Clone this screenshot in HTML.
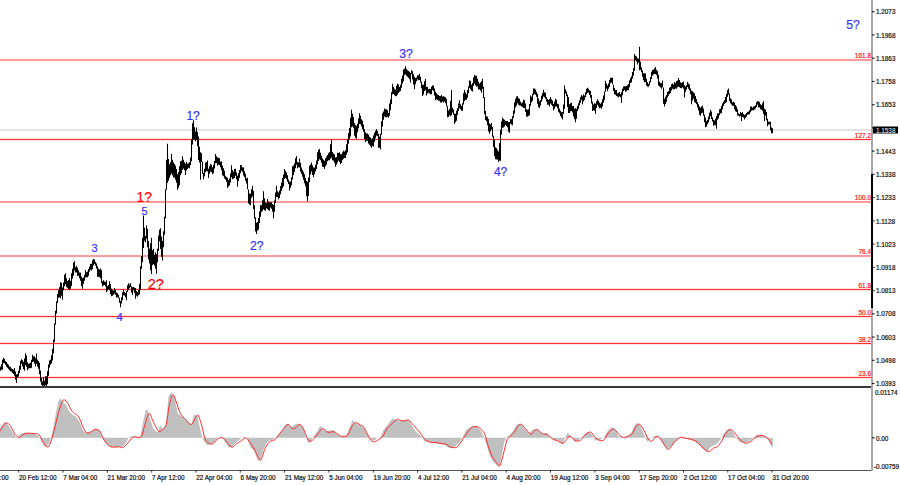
<!DOCTYPE html><html><head><meta charset="utf-8"><style>html,body{margin:0;padding:0;background:#fff;overflow:hidden}svg{display:block}text{font-family:"Liberation Sans",sans-serif}.k{stroke:#111;stroke-width:0.22px}.rr{stroke:#ff2020;stroke-width:0.22px}.w{stroke:#fff;stroke-width:0.15px}</style></head><body>
<svg width="900" height="485" viewBox="0 0 900 485">
<rect x="0" y="0" width="900" height="485" fill="#fff"/>
<rect x="0" y="129" width="871" height="2" fill="#e3e3e3"/>
<rect x="0" y="59" width="871" height="2" fill="#ff9a9a"/>
<rect x="0" y="201" width="871" height="2" fill="#ff9a9a"/>
<rect x="0" y="255" width="871" height="2" fill="#ff9a9a"/>
<rect x="0" y="138.5" width="871" height="2" fill="#ffc8c8"/>
<rect x="0" y="139" width="871" height="1" fill="#ff3030"/>
<rect x="0" y="288.5" width="871" height="2" fill="#ffc8c8"/>
<rect x="0" y="289" width="871" height="1" fill="#ff3030"/>
<rect x="0" y="315.5" width="871" height="2" fill="#ffc8c8"/>
<rect x="0" y="316" width="871" height="1" fill="#ff3030"/>
<rect x="0" y="342.5" width="871" height="2" fill="#ffc8c8"/>
<rect x="0" y="343" width="871" height="1" fill="#ff3030"/>
<rect x="0" y="376.5" width="871" height="2" fill="#ffc8c8"/>
<rect x="0" y="377" width="871" height="1" fill="#ff3030"/>
<text x="871" y="58.4" font-size="7.2" fill="#ff2020" class="rr" text-anchor="end" transform="translate(871,0) scale(0.9,1) translate(-871,0)">161.8</text>
<text x="871" y="200.4" font-size="7.2" fill="#ff2020" class="rr" text-anchor="end" transform="translate(871,0) scale(0.9,1) translate(-871,0)">100.0</text>
<text x="871" y="254.4" font-size="7.2" fill="#ff2020" class="rr" text-anchor="end" transform="translate(871,0) scale(0.9,1) translate(-871,0)">76.4</text>
<text x="871" y="137.9" font-size="7.2" fill="#ff2020" class="rr" text-anchor="end" transform="translate(871,0) scale(0.9,1) translate(-871,0)">127.2</text>
<text x="871" y="287.9" font-size="7.2" fill="#ff2020" class="rr" text-anchor="end" transform="translate(871,0) scale(0.9,1) translate(-871,0)">61.8</text>
<text x="871" y="314.9" font-size="7.2" fill="#ff2020" class="rr" text-anchor="end" transform="translate(871,0) scale(0.9,1) translate(-871,0)">50.0</text>
<text x="871" y="341.9" font-size="7.2" fill="#ff2020" class="rr" text-anchor="end" transform="translate(871,0) scale(0.9,1) translate(-871,0)">38.2</text>
<text x="871" y="375.9" font-size="7.2" fill="#ff2020" class="rr" text-anchor="end" transform="translate(871,0) scale(0.9,1) translate(-871,0)">23.6</text>
<path d="M0.5,366.65V370.68M1.5,364.35V369.65M2.5,359.70V369.61M3.5,357.68V363.15M4.5,358.99V363.20M5.5,361.15V364.78M6.5,362.05V366.87M7.5,363.85V367.80M8.5,364.85V368.92M9.5,366.65V370.15M10.5,366.65V371.15M11.5,368.55V371.42M12.5,369.03V372.95M13.5,369.69V373.90M14.5,367.94V375.75M15.5,371.45V379.40M16.5,374.60V383.05M17.5,373.90V377.15M18.5,370.85V376.41M19.5,365.70V373.11M20.5,360.65V369.65M21.5,359.25V363.65M22.5,360.15V366.40M23.5,362.05V369.23M24.5,358.57V370.65M25.5,353.35V365.05M26.5,355.55V366.85M27.5,362.05V370.20M28.5,363.85V368.65M29.5,363.28V368.05M30.5,362.82V368.25M31.5,359.83V367.82M32.5,354.85V362.08M33.5,356.39V361.65M34.5,356.15V363.53M35.5,358.26V366.40M36.5,353.55V363.76M37.5,359.82V366.45M38.5,361.11V368.85M39.5,362.84V374.25M40.5,370.55V381.50M41.5,377.63V384.66M42.5,381.39V385.65M43.5,377.65V385.72M44.5,380.45V387.21M45.5,376.35V385.16M46.5,376.35V386.05M47.5,371.26V384.35M48.5,364.51V375.65M49.5,360.52V367.55M50.5,359.63V364.85M51.5,355.17V363.55M52.5,348.73V360.42M53.5,339.62V353.25M54.5,323.59V342.05M55.5,310.77V324.66M56.5,301.35V313.54M57.5,293.95V303.05M58.5,290.22V297.70M59.5,287.35V297.14M60.5,282.35V298.25M61.5,282.85V295.85M62.5,287.50V299.85M63.5,282.39V290.25M64.5,274.85V286.19M65.5,273.31V284.14M66.5,278.17V287.05M67.5,281.00V287.85M68.5,279.90V289.18M69.5,278.05V290.25M70.5,280.90V288.65M71.5,273.25V285.96M72.5,268.73V278.87M73.5,262.51V275.75M74.5,261.35V270.51M75.5,267.28V272.55M76.5,265.65V272.55M77.5,267.71V275.75M78.5,270.16V275.75M79.5,272.52V278.37M80.5,272.72V280.83M81.5,276.45V286.09M82.5,278.35V288.65M83.5,277.52V283.85M84.5,274.85V280.65M85.5,270.05V277.43M86.5,272.21V277.35M87.5,271.47V277.35M88.5,269.07V275.75M89.5,266.73V271.68M90.5,264.12V269.84M91.5,263.65V270.60M92.5,260.35V268.91M93.5,258.97V265.41M94.5,259.55V264.09M95.5,261.95V265.46M96.5,263.50V268.51M97.5,266.27V276.94M98.5,268.82V276.73M99.5,269.43V277.35M100.5,268.45V278.34M101.5,270.35V283.32M102.5,281.29V286.45M103.5,280.15V285.51M104.5,281.41V284.95M105.5,282.05V286.40M106.5,280.15V292.35M107.5,285.95V290.68M108.5,285.15V289.14M109.5,281.15V290.14M110.5,284.01V294.35M111.5,288.77V296.35M112.5,290.05V295.75M113.5,290.65V294.80M114.5,287.99V293.55M115.5,289.75V294.66M116.5,292.45V297.53M117.5,293.23V297.25M118.5,294.75V298.25M119.5,297.78V302.74M120.5,300.95V307.15M121.5,297.17V303.42M122.5,292.19V300.25M123.5,289.05V295.35M124.5,292.05V295.57M125.5,293.05V297.22M126.5,290.98V300.31M127.5,285.25V291.83M128.5,283.15V289.74M129.5,284.55V288.35M130.5,283.15V287.05M131.5,286.15V292.77M132.5,287.15V295.01M133.5,286.94V290.35M134.5,287.70V292.65M135.5,288.05V298.64M136.5,291.05V295.75M137.5,292.05V296.75M138.5,289.82V295.35M139.5,283.71V294.35M140.5,266.37V290.35M141.5,256.05V268.77M142.5,237.63V262.35M143.5,215.47V247.95M144.5,227.87V240.65M145.5,235.93V242.15M146.5,225.55V238.44M147.5,228.68V247.18M148.5,240.98V259.45M149.5,248.76V263.51M150.5,243.34V270.27M151.5,237.64V273.95M152.5,250.34V264.92M153.5,248.65V263.97M154.5,254.68V265.48M155.5,252.28V268.87M156.5,254.35V273.78M157.5,248.65V262.35M158.5,235.54V250.85M159.5,229.85V241.29M160.5,228.35V249.06M161.5,236.47V256.65M162.5,240.93V260.49M163.5,231.35V247.16M164.5,216.85V234.71M165.5,189.35V218.30M166.5,159.68V189.65M167.5,143.75V182.90M168.5,159.05V180.78M169.5,164.18V177.70M170.5,162.28V175.15M171.5,153.85V173.45M172.5,159.83V175.15M173.5,162.57V177.62M174.5,163.95V177.56M175.5,165.65V179.72M176.5,169.05V182.87M177.5,173.91V189.81M178.5,171.95V187.80M179.5,166.36V185.25M180.5,161.25V175.15M181.5,160.65V173.27M182.5,156.28V169.92M183.5,159.80V168.41M184.5,162.35V170.32M185.5,163.72V174.98M186.5,161.76V170.54M187.5,163.74V169.00M188.5,163.28V167.70M189.5,162.29V168.35M190.5,157.51V164.95M191.5,138.93V161.35M192.5,123.35V144.46M193.5,120.34V139.23M194.5,127.19V139.78M195.5,131.48V141.35M196.5,127.45V139.65M197.5,131.91V146.35M198.5,136.47V159.95M199.5,146.73V162.45M200.5,152.15V179.65M201.5,153.29V161.95M202.5,161.65V174.10M203.5,173.04V179.35M204.5,168.85V176.18M205.5,162.65V172.28M206.5,162.10V171.01M207.5,160.59V171.60M208.5,168.66V178.05M209.5,166.35V173.90M210.5,163.95V171.40M211.5,164.70V171.90M212.5,167.25V174.35M213.5,164.63V173.15M214.5,160.90V168.57M215.5,154.06V163.25M216.5,156.25V162.93M217.5,157.59V165.65M218.5,157.75V164.81M219.5,158.13V165.08M220.5,161.57V167.14M221.5,161.45V170.24M222.5,165.58V175.34M223.5,168.33V176.20M224.5,170.80V178.45M225.5,175.85V179.55M226.5,176.95V181.75M227.5,177.84V187.95M228.5,180.05V186.60M229.5,178.38V185.45M230.5,173.53V182.46M231.5,165.15V177.23M232.5,170.08V179.35M233.5,171.69V178.59M234.5,169.04V178.05M235.5,168.85V175.80M236.5,172.47V179.35M237.5,175.85V186.78M238.5,173.15V180.90M239.5,169.97V177.84M240.5,164.89V173.15M241.5,165.15V170.65M242.5,167.23V171.85M243.5,167.49V175.55M244.5,171.16V177.31M245.5,173.85V180.84M246.5,178.31V183.57M247.5,177.73V189.25M248.5,189.49V203.45M249.5,193.60V204.46M250.5,193.65V205.35M251.5,189.35V197.85M252.5,185.65V196.47M253.5,191.12V209.05M254.5,205.14V218.47M255.5,217.15V231.60M256.5,222.75V234.06M257.5,221.98V230.68M258.5,217.96V229.45M259.5,211.55V223.06M260.5,205.16V216.70M261.5,205.03V212.07M262.5,200.17V210.85M263.5,191.36V209.17M264.5,198.35V210.21M265.5,202.35V210.85M266.5,203.29V208.25M267.5,199.03V209.05M268.5,201.38V210.13M269.5,202.35V210.85M270.5,202.35V207.40M271.5,202.35V208.63M272.5,204.06V211.53M273.5,204.93V218.25M274.5,200.45V211.74M275.5,192.56V203.08M276.5,185.65V197.11M277.5,191.15V197.37M278.5,192.61V199.50M279.5,190.44V198.05M280.5,185.89V194.15M281.5,182.49V190.98M282.5,178.04V188.17M283.5,174.61V186.31M284.5,168.95V178.75M285.5,170.86V177.83M286.5,172.48V179.18M287.5,175.14V181.73M288.5,179.62V184.06M289.5,181.51V190.45M290.5,181.51V187.87M291.5,177.41V185.32M292.5,166.26V179.45M293.5,165.55V174.91M294.5,163.44V171.95M295.5,158.31V168.25M296.5,155.95V164.80M297.5,161.97V168.25M298.5,162.41V167.37M299.5,158.57V167.47M300.5,162.86V171.72M301.5,167.58V174.06M302.5,169.84V176.79M303.5,171.71V179.78M304.5,174.19V183.29M305.5,178.07V186.25M306.5,180.93V196.29M307.5,181.78V201.35M308.5,177.48V196.00M309.5,165.75V182.24M310.5,164.47V174.60M311.5,162.53V171.42M312.5,165.27V175.08M313.5,167.45V177.18M314.5,167.45V174.29M315.5,164.85V171.29M316.5,160.38V168.95M317.5,152.35V164.18M318.5,149.71V160.90M319.5,149.05V159.23M320.5,152.85V160.25M321.5,155.67V162.74M322.5,158.19V166.75M323.5,159.63V167.10M324.5,160.70V168.95M325.5,158.17V166.17M326.5,156.44V164.65M327.5,154.97V161.23M328.5,153.24V160.25M329.5,151.90V160.25M330.5,144.26V158.64M331.5,139.85V157.74M332.5,152.01V160.25M333.5,153.40V160.78M334.5,154.45V162.74M335.5,157.60V166.75M336.5,157.03V164.66M337.5,152.87V162.45M338.5,153.09V160.39M339.5,152.35V161.88M340.5,153.98V164.05M341.5,154.25V162.89M342.5,152.35V159.92M343.5,150.78V158.64M344.5,151.57V158.05M345.5,150.15V158.05M346.5,144.37V154.85M347.5,138.92V152.50M348.5,133.12V143.66M349.5,127.90V139.03M350.5,117.84V136.45M351.5,109.69V127.31M352.5,113.64V126.57M353.5,116.90V127.81M354.5,123.28V135.66M355.5,125.05V137.80M356.5,125.70V138.65M357.5,123.82V132.15M358.5,118.30V128.25M359.5,113.35V124.03M360.5,115.84V124.13M361.5,119.15V126.60M362.5,120.75V129.26M363.5,124.56V131.69M364.5,128.95V139.12M365.5,132.15V142.05M366.5,133.44V141.05M367.5,133.39V140.83M368.5,134.58V143.54M369.5,136.80V144.70M370.5,137.59V146.22M371.5,139.77V147.85M372.5,138.35V145.99M373.5,135.60V146.44M374.5,132.85V141.66M375.5,130.66V138.31M376.5,128.95V135.55M377.5,130.95V136.15M378.5,133.74V147.85M379.5,136.80V147.85M380.5,133.72V149.19M381.5,121.15V134.86M382.5,113.35V126.59M383.5,111.60V119.81M384.5,108.58V116.55M385.5,109.35V117.32M386.5,109.35V117.35M387.5,110.32V116.70M388.5,113.04V117.87M389.5,103.45V115.85M390.5,99.57V110.35M391.5,92.14V103.93M392.5,83.85V94.19M393.5,86.68V94.08M394.5,88.73V95.33M395.5,89.39V96.19M396.5,85.79V95.95M397.5,83.85V94.69M398.5,84.59V92.95M399.5,87.10V91.76M400.5,84.75V91.05M401.5,78.68V87.64M402.5,75.52V83.52M403.5,69.43V81.25M404.5,68.73V75.35M405.5,66.25V74.26M406.5,68.76V75.86M407.5,70.15V76.70M408.5,70.95V77.65M409.5,71.85V79.14M410.5,73.04V82.42M411.5,70.25V74.16M412.5,71.36V79.45M413.5,74.35V84.40M414.5,76.85V89.35M415.5,78.11V84.35M416.5,77.42V81.29M417.5,75.15V79.18M418.5,75.15V80.30M419.5,73.89V80.12M420.5,76.85V82.57M421.5,81.75V88.17M422.5,84.74V95.95M423.5,84.77V94.59M424.5,81.19V90.95M425.5,79.01V90.02M426.5,86.75V95.62M427.5,87.08V93.41M428.5,89.19V92.65M429.5,88.76V93.45M430.5,88.94V94.25M431.5,86.86V94.25M432.5,85.41V90.10M433.5,85.52V90.95M434.5,88.14V95.48M435.5,91.65V100.26M436.5,93.35V99.25M437.5,94.70V99.89M438.5,94.95V100.85M439.5,95.94V100.85M440.5,96.00V102.52M441.5,94.95V102.55M442.5,96.52V101.57M443.5,96.32V102.55M444.5,96.65V101.47M445.5,97.34V103.25M446.5,98.64V106.18M447.5,105.91V117.35M448.5,110.56V116.98M449.5,108.94V115.15M450.5,100.71V116.17M451.5,90.05V115.13M452.5,107.65V112.45M453.5,109.57V114.69M454.5,113.41V123.95M455.5,113.75V122.30M456.5,110.69V120.65M457.5,108.15V115.04M458.5,103.55V111.05M459.5,100.18V108.28M460.5,104.24V109.23M461.5,106.03V110.75M462.5,103.24V110.75M463.5,93.35V104.43M464.5,90.05V101.01M465.5,92.41V99.65M466.5,94.26V99.65M467.5,90.05V97.64M468.5,86.22V93.22M469.5,80.48V87.64M470.5,80.84V89.35M471.5,84.68V90.64M472.5,83.02V91.45M473.5,77.60V85.95M474.5,74.95V83.68M475.5,75.65V85.30M476.5,75.65V86.44M477.5,78.71V86.56M478.5,81.85V89.44M479.5,83.81V89.35M480.5,82.60V90.49M481.5,81.04V92.67M482.5,78.72V88.82M483.5,86.86V97.96M484.5,97.35V114.15M485.5,110.90V120.01M486.5,116.25V121.35M487.5,116.85V125.27M488.5,118.95V131.39M489.5,123.38V133.82M490.5,124.25V131.45M491.5,123.05V129.40M492.5,126.93V136.85M493.5,135.86V147.01M494.5,139.55V156.19M495.5,147.37V159.15M496.5,147.92V159.46M497.5,149.85V159.56M498.5,151.58V162.04M499.5,142.91V160.65M500.5,129.76V160.65M501.5,121.40V134.75M502.5,117.45V127.64M503.5,118.95V127.52M504.5,119.69V126.55M505.5,120.63V124.87M506.5,121.05V126.10M507.5,121.05V127.23M508.5,122.34V131.71M509.5,121.88V132.65M510.5,118.95V123.79M511.5,119.16V124.45M512.5,116.37V125.19M513.5,110.54V117.98M514.5,102.45V113.46M515.5,98.73V107.55M516.5,96.56V105.85M517.5,96.25V103.16M518.5,98.32V104.70M519.5,98.85V105.52M520.5,101.45V105.56M521.5,103.15V106.45M522.5,102.29V107.05M523.5,99.81V107.95M524.5,100.29V107.95M525.5,103.39V111.96M526.5,109.34V116.55M527.5,109.85V116.86M528.5,109.25V116.05M529.5,103.99V115.15M530.5,95.57V105.72M531.5,96.74V102.29M532.5,93.64V100.75M533.5,88.45V94.95M534.5,88.45V93.95M535.5,89.61V94.67M536.5,91.64V96.87M537.5,93.63V103.65M538.5,98.55V107.27M539.5,101.22V107.95M540.5,99.95V105.44M541.5,95.68V101.74M542.5,93.14V99.25M543.5,89.77V96.54M544.5,92.25V97.31M545.5,92.75V98.87M546.5,97.05V101.43M547.5,99.12V104.72M548.5,99.95V104.85M549.5,99.00V106.45M550.5,97.05V103.50M551.5,99.25V104.64M552.5,100.47V105.91M553.5,103.96V110.39M554.5,101.84V108.83M555.5,98.78V106.45M556.5,99.80V106.45M557.5,103.84V108.31M558.5,104.35V112.03M559.5,108.65V113.21M560.5,110.78V116.01M561.5,112.15V117.79M562.5,112.09V119.45M563.5,104.45V113.75M564.5,85.55V108.81M565.5,89.28V93.55M566.5,91.43V96.35M567.5,94.61V106.91M568.5,97.05V113.05M569.5,104.35V112.92M570.5,103.35V111.20M571.5,102.85V110.94M572.5,106.00V112.54M573.5,105.90V116.55M574.5,108.78V119.35M575.5,108.25V122.15M576.5,108.76V118.65M577.5,105.97V110.96M578.5,103.26V108.94M579.5,100.34V105.44M580.5,96.88V102.95M581.5,94.95V99.66M582.5,96.24V104.30M583.5,94.32V101.29M584.5,95.41V100.05M585.5,92.22V97.34M586.5,88.82V94.39M587.5,87.75V92.85M588.5,88.63V92.85M589.5,90.25V94.97M590.5,90.91V97.73M591.5,94.95V103.46M592.5,101.79V110.91M593.5,104.58V110.15M594.5,103.30V110.73M595.5,103.65V114.00M596.5,101.19V108.08M597.5,99.35V104.75M598.5,100.66V106.42M599.5,102.61V108.25M600.5,103.65V107.75M601.5,102.26V108.75M602.5,99.35V106.52M603.5,95.42V102.51M604.5,91.44V100.05M605.5,80.83V91.74M606.5,83.41V88.75M607.5,85.59V91.35M608.5,83.45V88.78M609.5,79.97V87.05M610.5,77.65V83.32M611.5,77.65V82.46M612.5,77.65V84.29M613.5,84.85V90.97M614.5,87.92V94.25M615.5,90.00V94.71M616.5,90.04V96.05M617.5,93.34V96.40M618.5,92.65V97.47M619.5,92.05V96.15M620.5,93.91V97.15M621.5,92.05V102.95M622.5,88.79V95.28M623.5,86.61V91.35M624.5,86.35V89.95M625.5,86.35V91.87M626.5,86.05V91.35M627.5,85.22V89.95M628.5,84.04V90.19M629.5,80.58V87.28M630.5,77.95V83.10M631.5,76.35V82.18M632.5,72.06V78.45M633.5,68.10V75.65M634.5,53.95V70.65M635.5,55.63V60.28M636.5,56.55V61.57M637.5,58.15V64.58M638.5,58.80V62.45M639.5,46.65V70.21M640.5,61.73V70.09M641.5,67.14V72.35M642.5,70.20V76.69M643.5,73.28V80.17M644.5,73.34V82.25M645.5,73.56V81.98M646.5,78.78V85.55M647.5,82.19V86.40M648.5,83.97V86.78M649.5,81.25V85.29M650.5,76.99V82.25M651.5,71.72V78.95M652.5,69.75V75.56M653.5,69.75V74.52M654.5,68.33V73.95M655.5,67.11V73.95M656.5,69.75V75.08M657.5,71.10V78.59M658.5,74.67V85.55M659.5,81.45V86.48M660.5,82.95V87.44M661.5,83.34V88.85M662.5,80.54V87.28M663.5,87.55V103.65M664.5,98.83V106.42M665.5,96.67V103.94M666.5,95.01V102.05M667.5,91.65V97.43M668.5,91.15V95.74M669.5,87.85V94.07M670.5,87.11V93.00M671.5,84.30V90.45M672.5,83.61V88.85M673.5,84.55V89.56M674.5,82.06V89.29M675.5,82.95V88.62M676.5,81.10V88.85M677.5,80.44V87.15M678.5,77.95V86.55M679.5,80.08V87.15M680.5,82.17V88.07M681.5,82.95V88.14M682.5,82.18V87.29M683.5,81.62V88.85M684.5,85.15V97.46M685.5,86.50V91.79M686.5,85.15V89.48M687.5,82.08V87.07M688.5,83.50V88.84M689.5,84.40V90.55M690.5,88.45V94.33M691.5,90.76V104.25M692.5,91.23V100.49M693.5,92.62V98.52M694.5,93.35V101.94M695.5,95.90V102.94M696.5,98.94V104.25M697.5,101.92V107.55M698.5,104.27V110.41M699.5,106.55V114.83M700.5,107.76V115.75M701.5,106.55V113.35M702.5,105.75V112.84M703.5,108.53V115.75M704.5,114.85V122.21M705.5,117.61V127.35M706.5,121.32V126.46M707.5,119.75V124.30M708.5,116.45V122.53M709.5,112.85V119.25M710.5,109.85V116.36M711.5,111.55V119.12M712.5,117.13V121.52M713.5,119.83V125.65M714.5,120.46V125.12M715.5,118.48V125.32M716.5,115.94V128.65M717.5,113.39V119.69M718.5,113.15V118.46M719.5,109.35V115.35M720.5,108.66V113.42M721.5,106.04V113.30M722.5,103.55V109.40M723.5,101.65V106.07M724.5,99.95V104.12M725.5,97.12V102.73M726.5,93.90V102.18M727.5,90.05V96.75M728.5,88.45V94.62M729.5,93.73V100.95M730.5,98.30V103.18M731.5,99.62V104.62M732.5,102.25V105.85M733.5,101.65V105.85M734.5,102.85V109.15M735.5,105.03V111.24M736.5,106.55V112.02M737.5,109.12V115.55M738.5,113.25V115.78M739.5,114.15V116.65M740.5,111.93V115.95M741.5,113.02V120.95M742.5,111.95V117.03M743.5,113.95V117.38M744.5,114.97V119.41M745.5,114.33V117.87M746.5,113.05V116.64M747.5,111.95V114.85M748.5,111.53V114.45M749.5,110.20V114.15M750.5,106.69V112.35M751.5,106.55V110.66M752.5,107.65V110.15M753.5,106.54V110.15M754.5,106.37V109.53M755.5,105.25V108.42M756.5,102.25V106.91M757.5,101.25V104.47M758.5,101.25V107.28M759.5,102.07V107.51M760.5,104.23V109.15M761.5,105.22V109.82M762.5,103.23V110.71M763.5,101.25V113.91M764.5,108.75V120.90M765.5,109.85V115.45M766.5,111.95V120.28M767.5,118.84V126.25M768.5,121.65V124.81M769.5,121.65V124.15M770.5,121.65V130.15M771.5,127.53V133.27M772.5,128.37V133.15" stroke="#000" stroke-width="1.05" fill="none"/>
<text x="186.4" y="119.8" font-size="12" fill="#3333ff" stroke="#3333ff" stroke-width="0.2">1?</text>
<text x="399.3" y="57.5" font-size="12.2" fill="#3333ff" stroke="#3333ff" stroke-width="0.2">3?</text>
<text x="493.9" y="176.2" font-size="12" fill="#3333ff" stroke="#3333ff" stroke-width="0.2">4?</text>
<text x="846.3" y="28.7" font-size="12.2" fill="#3333ff" stroke="#3333ff" stroke-width="0.2">5?</text>
<text x="250.1" y="249.7" font-size="12.2" fill="#3333ff" stroke="#3333ff" stroke-width="0.2">2?</text>
<text x="91.6" y="252.1" font-size="11" fill="#3333ff" stroke="#3333ff" stroke-width="0.2">3</text>
<text x="116.5" y="321.3" font-size="11" fill="#3333ff" stroke="#3333ff" stroke-width="0.2">4</text>
<text x="141.4" y="214.7" font-size="10.8" fill="#3333ff" stroke="#3333ff" stroke-width="0.2">5</text>
<text x="136.6" y="201.9" font-size="13.8" fill="#ff0000" stroke="#ff0000" stroke-width="0.2">1?</text>
<text x="147.7" y="288.7" font-size="14.5" fill="#ff0000" stroke="#ff0000" stroke-width="0.2">2?</text>
<rect x="0" y="386" width="873" height="2" fill="#3c3c3c"/>
<polygon points="0,437.8 0,428.6 3.4,423.5 5.1,421.8 7.6,424.4 10.2,428.6 13.5,433.7 16.9,437.9 20.3,433.7 23.7,432.8 27,432.8 33.8,433.3 38,435.4 40.6,438.8 44,445.5 46.5,447.2 49.9,442.1 52.5,432 55.8,413.4 58.4,401.5 60.1,398.2 62.6,401.5 66,404.9 69.4,411.7 72.8,415.1 76.1,416.8 79.5,421.8 82.9,430.3 86.3,432.8 91.4,431.1 95.6,428.6 99.8,430.3 102.5,438.8 106.8,444.7 111.8,446.9 116.9,447.2 122,447.2 125.4,443.8 127.9,438.8 130.5,436.2 133.8,436.2 137.2,437.1 140.6,436.2 143.1,421.8 145.7,410 147.4,409.2 149.9,418.5 153.3,428.6 157.5,432.8 160.1,425.2 162.6,428.6 166,425.2 168.5,396.5 171.1,392.2 174.4,396.5 177.8,413.4 181.2,415.9 186.3,420.1 191.4,424.4 193.9,414.2 197.3,415.9 199.8,426.9 201.7,435.4 203.4,440.5 206.8,444.7 210.2,444.7 214.4,442.1 217.8,437.9 221.2,437.1 224.5,440.5 228.8,447.2 232.1,446.4 235.5,443 240.6,438.8 244,436.2 247.4,438.8 250.8,448.1 254.1,450.6 257.5,459.9 260.1,460.8 262.6,452.3 266,443.8 269.4,440.5 274.5,438.8 277.8,435.4 281.2,432 284.6,426.1 287.1,423.5 289.7,426.9 293.1,426.1 296.4,423.5 299.8,424.4 303.4,428.6 305.9,437.1 308.5,443.8 311,440.5 313.5,436.2 316.9,432 319.5,426.9 321.2,426.1 323.7,430.3 327.1,431.1 331.3,430.3 333.8,430.3 337.2,434.5 341.5,436.2 346.5,435.4 349.9,426.9 352.5,420.1 355.8,423.5 360.1,425.2 364.3,428.6 367.7,434.5 371.1,440.5 374.5,440.5 377,437.9 380.4,437.1 383.8,429.5 388,424.4 392.2,418.5 394.8,419.3 399.8,421 404.2,420.1 408.5,420.1 411.8,425.2 415.2,431.1 419.5,434.5 422,437.1 424.5,441.3 428.8,442.1 433.8,443 438.9,443.8 444,444.7 449.1,448.1 454.1,447.2 459.2,443 462.6,437.1 466,430.3 469.4,427.8 472.8,426.1 477,426.9 481.2,431.1 483.8,437.1 486.3,443.8 489.7,455.7 493.9,462.5 497.3,465.8 499.8,465.8 501.7,455.7 504.2,442.1 506.8,437.1 510.2,434.5 513.5,430.3 516.9,424.4 520.3,423.5 524.5,428.6 528.8,433.7 532.1,430.3 535.5,428.6 539.8,431.1 543.1,434.5 546.5,432.8 550.8,437.9 554.1,440.5 558.4,440.5 562.6,444.7 565.1,437.1 567.7,432.8 571.1,437.1 574.5,442.1 578.7,440.5 582.9,436.2 587.1,432 591.4,433.7 594.8,440.5 599.8,440 604.2,437.1 607.6,431.1 611.8,426.9 615.2,429.5 618.6,436.2 622.8,437.1 627.1,436.2 631.3,432.8 634.7,425.2 637.2,422.7 640.6,426.1 644,434.5 647.4,442.1 649.9,438.8 653.3,436.2 656.7,435.4 660.9,440.5 664.3,445.5 666.8,449.8 670.2,447.2 674.5,442.1 679.5,437.9 684.6,438.8 689.7,439.6 694.8,441.3 699.8,445.5 703.4,448.9 706.8,452.3 710.2,447.2 713.5,445.5 716.9,443.8 720.3,439.6 723.7,433.7 727.1,429.5 729.6,428.6 733,432 736.4,437.9 739.8,442.1 744,443 748.2,442.1 752.5,438.8 756.7,434.5 760.9,434.5 765.1,436.2 768.5,440.5 771.1,445.5 772.8,448.1 772.8,437.8" fill="#c0c0c0"/>
<path d="M0,431.1 C0.70,429.98 2.93,425.72 4.2,424.4 C5.47,423.08 6.47,422.78 7.6,423.2 C8.73,423.62 9.73,425.02 11,426.9 C12.27,428.78 13.78,432.72 15.2,434.5 C16.62,436.28 18.37,437.45 19.5,437.6 C20.63,437.75 20.75,436.13 22,435.4 C23.25,434.67 25.03,433.48 27,433.2 C28.97,432.92 31.82,433.48 33.8,433.7 C35.78,433.92 37.35,433.10 38.9,434.5 C40.45,435.90 41.68,439.98 43.1,442.1 C44.52,444.22 46.12,447.20 47.4,447.2 C48.68,447.20 49.68,444.92 50.8,442.1 C51.92,439.28 52.83,435.08 54.1,430.3 C55.37,425.52 57.12,418.05 58.4,413.4 C59.68,408.75 60.82,404.67 61.8,402.4 C62.78,400.13 63.32,399.67 64.3,399.8 C65.28,399.93 66.57,401.50 67.7,403.2 C68.83,404.90 69.97,408.30 71.1,410 C72.23,411.70 73.23,412.27 74.5,413.4 C75.77,414.53 77.30,414.55 78.7,416.8 C80.10,419.05 81.63,424.32 82.9,426.9 C84.17,429.48 85.17,431.32 86.3,432.3 C87.43,433.28 88.28,433.27 89.7,432.8 C91.12,432.33 93.12,429.78 94.8,429.5 C96.48,429.22 98.37,429.55 99.8,431.1 C101.23,432.65 101.95,436.40 103.4,438.8 C104.85,441.20 106.82,444.10 108.5,445.5 C110.18,446.90 111.82,447.00 113.5,447.2 C115.18,447.40 117.05,446.63 118.6,446.7 C120.15,446.77 121.38,448.08 122.8,447.6 C124.22,447.12 125.68,445.27 127.1,443.8 C128.52,442.33 130.03,439.98 131.3,438.8 C132.57,437.62 133.57,436.93 134.7,436.7 C135.83,436.47 136.97,437.48 138.1,437.4 C139.23,437.32 140.38,438.23 141.5,436.2 C142.62,434.17 143.53,429.00 144.8,425.2 C146.07,421.40 147.82,414.25 149.1,413.4 C150.38,412.55 151.23,417.57 152.5,420.1 C153.77,422.63 155.58,426.67 156.7,428.6 C157.82,430.53 158.22,431.55 159.2,431.7 C160.18,431.85 161.47,430.58 162.6,429.5 C163.73,428.42 164.87,429.30 166,425.2 C167.13,421.10 168.27,409.97 169.4,404.9 C170.53,399.83 171.68,395.37 172.8,394.8 C173.92,394.23 174.83,398.40 176.1,401.5 C177.37,404.60 178.85,410.43 180.4,413.4 C181.95,416.37 183.57,417.47 185.4,419.3 C187.23,421.13 189.42,425.10 191.4,424.4 C193.38,423.70 195.90,415.95 197.3,415.1 C198.70,414.25 198.93,417.05 199.8,419.3 C200.67,421.55 201.62,425.35 202.5,428.6 C203.38,431.85 204.10,436.40 205.1,438.8 C206.10,441.20 207.23,442.17 208.5,443 C209.77,443.83 211.30,444.37 212.7,443.8 C214.10,443.23 215.63,440.58 216.9,439.6 C218.17,438.62 219.17,438.10 220.3,437.9 C221.43,437.70 222.43,437.42 223.7,438.4 C224.97,439.38 226.50,442.33 227.9,443.8 C229.30,445.27 230.68,447.20 232.1,447.2 C233.52,447.20 234.98,444.78 236.4,443.8 C237.82,442.82 239.05,442.28 240.6,441.3 C242.15,440.32 244.28,437.90 245.7,437.9 C247.12,437.90 247.70,439.47 249.1,441.3 C250.50,443.13 252.55,446.22 254.1,448.9 C255.65,451.58 257.27,455.57 258.4,457.4 C259.53,459.23 259.92,461.03 260.9,459.9 C261.88,458.77 263.17,453.28 264.3,450.6 C265.43,447.92 266.43,445.48 267.7,443.8 C268.97,442.12 270.63,441.20 271.9,440.5 C273.17,439.80 274.03,440.73 275.3,439.6 C276.57,438.47 278.08,435.53 279.5,433.7 C280.92,431.87 282.38,430.15 283.8,428.6 C285.22,427.05 286.60,424.40 288,424.4 C289.40,424.40 290.93,428.03 292.2,428.6 C293.47,429.17 294.33,428.50 295.6,427.8 C296.87,427.10 298.50,424.27 299.8,424.4 C301.10,424.53 302.10,426.20 303.4,428.6 C304.70,431.00 306.33,436.68 307.6,438.8 C308.87,440.92 309.73,441.58 311,441.3 C312.27,441.02 313.93,438.52 315.2,437.1 C316.47,435.68 317.33,434.22 318.6,432.8 C319.87,431.38 321.25,428.68 322.8,428.6 C324.35,428.52 326.07,431.78 327.9,432.3 C329.73,432.82 332.25,431.47 333.8,431.7 C335.35,431.93 335.92,432.95 337.2,433.7 C338.48,434.45 339.80,435.92 341.5,436.2 C343.20,436.48 345.72,436.95 347.4,435.4 C349.08,433.85 350.20,429.02 351.6,426.9 C353.00,424.78 354.38,423.03 355.8,422.7 C357.22,422.37 358.82,424.20 360.1,424.9 C361.38,425.60 362.23,425.30 363.5,426.9 C364.77,428.50 366.43,432.23 367.7,434.5 C368.97,436.77 369.97,439.28 371.1,440.5 C372.23,441.72 373.23,441.95 374.5,441.8 C375.77,441.65 377.30,440.53 378.7,439.6 C380.10,438.67 381.50,438.03 382.9,436.2 C384.30,434.37 385.55,430.72 387.1,428.6 C388.65,426.48 390.50,425.05 392.2,423.5 C393.90,421.95 396.03,419.87 397.3,419.3 C398.57,418.73 398.78,419.82 399.8,420.1 C400.82,420.38 401.95,421.00 403.4,421 C404.85,421.00 406.82,419.40 408.5,420.1 C410.18,420.80 411.67,423.22 413.5,425.2 C415.33,427.18 417.67,429.73 419.5,432 C421.33,434.27 422.82,437.12 424.5,438.8 C426.18,440.48 427.77,441.48 429.6,442.1 C431.43,442.72 433.38,442.22 435.5,442.5 C437.62,442.78 440.47,443.50 442.3,443.8 C444.13,444.10 445.08,443.73 446.5,444.3 C447.92,444.87 449.10,446.72 450.8,447.2 C452.50,447.68 455.02,448.05 456.7,447.2 C458.38,446.35 459.35,444.22 460.9,442.1 C462.45,439.98 464.30,436.88 466,434.5 C467.70,432.12 469.42,429.12 471.1,427.8 C472.78,426.48 474.55,426.47 476.1,426.6 C477.65,426.73 478.98,427.42 480.4,428.6 C481.82,429.78 483.33,430.88 484.6,433.7 C485.87,436.52 486.73,441.70 488,445.5 C489.27,449.30 490.80,453.67 492.2,456.5 C493.60,459.33 495.13,460.95 496.4,462.5 C497.67,464.05 498.63,467.22 499.8,465.8 C500.97,464.38 502.23,458.22 503.4,454 C504.57,449.78 505.67,443.47 506.8,440.5 C507.93,437.53 508.93,437.62 510.2,436.2 C511.47,434.78 513.13,433.68 514.4,432 C515.67,430.32 516.67,427.37 517.8,426.1 C518.93,424.83 519.93,423.98 521.2,424.4 C522.47,424.82 523.85,427.00 525.4,428.6 C526.95,430.20 529.10,433.48 530.5,434 C531.90,434.52 532.68,432.45 533.8,431.7 C534.92,430.95 535.78,429.17 537.2,429.5 C538.62,429.83 540.60,432.87 542.3,433.7 C544.00,434.53 545.70,433.65 547.4,434.5 C549.10,435.35 550.82,437.75 552.5,438.8 C554.18,439.85 555.67,440.10 557.5,440.8 C559.33,441.50 561.52,443.77 563.5,443 C565.48,442.23 567.43,436.62 569.4,436.2 C571.37,435.78 573.47,439.78 575.3,440.5 C577.13,441.22 578.85,441.35 580.4,440.5 C581.95,439.65 582.92,436.82 584.6,435.4 C586.28,433.98 588.80,431.72 590.5,432 C592.20,432.28 593.25,435.68 594.8,437.1 C596.35,438.52 598.23,440.08 599.8,440.5 C601.37,440.92 602.75,440.88 604.2,439.6 C605.65,438.32 606.95,434.57 608.5,432.8 C610.05,431.03 612.10,429.13 613.5,429 C614.90,428.87 615.48,430.65 616.9,432 C618.32,433.35 620.30,436.32 622,437.1 C623.70,437.88 625.42,437.27 627.1,436.7 C628.78,436.13 630.55,435.47 632.1,433.7 C633.65,431.93 635.12,427.65 636.4,426.1 C637.68,424.55 638.53,423.70 639.8,424.4 C641.07,425.10 642.60,427.90 644,430.3 C645.40,432.70 646.93,436.97 648.2,438.8 C649.47,440.63 650.05,441.73 651.6,441.3 C653.15,440.87 655.67,436.07 657.5,436.2 C659.33,436.33 660.77,439.92 662.6,442.1 C664.43,444.28 666.52,449.30 668.5,449.3 C670.48,449.30 672.52,444.08 674.5,442.1 C676.48,440.12 678.43,438.02 680.4,437.4 C682.37,436.78 684.33,438.03 686.3,438.4 C688.27,438.77 690.37,438.98 692.2,439.6 C694.03,440.22 696.03,441.25 697.3,442.1 C698.57,442.95 698.65,443.57 699.8,444.7 C700.95,445.83 702.62,447.77 704.2,448.9 C705.78,450.03 707.75,451.63 709.3,451.5 C710.85,451.37 712.08,448.95 713.5,448.1 C714.92,447.25 716.38,447.67 717.8,446.4 C719.22,445.13 720.60,442.77 722,440.5 C723.40,438.23 724.78,434.63 726.2,432.8 C727.62,430.97 729.08,429.50 730.5,429.5 C731.92,429.50 733.15,431.12 734.7,432.8 C736.25,434.48 738.12,437.90 739.8,439.6 C741.48,441.30 743.12,442.58 744.8,443 C746.48,443.42 748.20,442.95 749.9,442.1 C751.60,441.25 753.17,439.02 755,437.9 C756.83,436.78 759.07,435.53 760.9,435.4 C762.73,435.27 764.58,436.25 766,437.1 C767.42,437.95 768.42,439.23 769.4,440.5 C770.38,441.77 771.48,444.00 771.9,444.7" fill="none" stroke="#ff2a2a" stroke-width="1.0" stroke-linejoin="round"/>
<rect x="0" y="470" width="873" height="1" fill="#555"/>
<rect x="871" y="0" width="2" height="471" fill="#a8a8a8"/>
<rect x="871" y="174" width="2" height="134" fill="#000"/>
<rect x="872" y="11.1" width="2.5" height="1.2" fill="#222"/>
<text x="0" y="0" font-size="7.4" fill="#111" class="k" transform="translate(876,14.3) scale(0.86,1)">1.2073</text>
<rect x="872" y="34.3" width="2.5" height="1.2" fill="#222"/>
<text x="0" y="0" font-size="7.4" fill="#111" class="k" transform="translate(876,37.5) scale(0.86,1)">1.1968</text>
<rect x="872" y="57.6" width="2.5" height="1.2" fill="#222"/>
<text x="0" y="0" font-size="7.4" fill="#111" class="k" transform="translate(876,60.8) scale(0.86,1)">1.1863</text>
<rect x="872" y="80.8" width="2.5" height="1.2" fill="#222"/>
<text x="0" y="0" font-size="7.4" fill="#111" class="k" transform="translate(876,84) scale(0.86,1)">1.1758</text>
<rect x="872" y="104.1" width="2.5" height="1.2" fill="#222"/>
<text x="0" y="0" font-size="7.4" fill="#111" class="k" transform="translate(876,107.3) scale(0.86,1)">1.1653</text>
<rect x="872" y="127.3" width="2.5" height="1.2" fill="#222"/>
<rect x="872" y="150.5" width="2.5" height="1.2" fill="#222"/>
<text x="0" y="0" font-size="7.4" fill="#111" class="k" transform="translate(876,153.7) scale(0.86,1)">1.1443</text>
<rect x="872" y="173.8" width="2.5" height="1.2" fill="#222"/>
<text x="0" y="0" font-size="7.4" fill="#111" class="k" transform="translate(876,177) scale(0.86,1)">1.1338</text>
<rect x="872" y="197" width="2.5" height="1.2" fill="#222"/>
<text x="0" y="0" font-size="7.4" fill="#111" class="k" transform="translate(876,200.2) scale(0.86,1)">1.1233</text>
<rect x="872" y="220.3" width="2.5" height="1.2" fill="#222"/>
<text x="0" y="0" font-size="7.4" fill="#111" class="k" transform="translate(876,223.5) scale(0.86,1)">1.1128</text>
<rect x="872" y="243.5" width="2.5" height="1.2" fill="#222"/>
<text x="0" y="0" font-size="7.4" fill="#111" class="k" transform="translate(876,246.7) scale(0.86,1)">1.1023</text>
<rect x="872" y="266.7" width="2.5" height="1.2" fill="#222"/>
<text x="0" y="0" font-size="7.4" fill="#111" class="k" transform="translate(876,269.9) scale(0.86,1)">1.0918</text>
<rect x="872" y="290" width="2.5" height="1.2" fill="#222"/>
<text x="0" y="0" font-size="7.4" fill="#111" class="k" transform="translate(876,293.2) scale(0.86,1)">1.0813</text>
<rect x="872" y="313.2" width="2.5" height="1.2" fill="#222"/>
<text x="0" y="0" font-size="7.4" fill="#111" class="k" transform="translate(876,316.4) scale(0.86,1)">1.0708</text>
<rect x="872" y="336.5" width="2.5" height="1.2" fill="#222"/>
<text x="0" y="0" font-size="7.4" fill="#111" class="k" transform="translate(876,339.7) scale(0.86,1)">1.0603</text>
<rect x="872" y="359.7" width="2.5" height="1.2" fill="#222"/>
<text x="0" y="0" font-size="7.4" fill="#111" class="k" transform="translate(876,362.9) scale(0.86,1)">1.0498</text>
<rect x="872" y="382.9" width="2.5" height="1.2" fill="#222"/>
<text x="0" y="0" font-size="7.4" fill="#111" class="k" transform="translate(876,386.1) scale(0.86,1)">1.0393</text>
<rect x="873" y="126.5" width="25" height="7" fill="#000"/>
<text x="0" y="0" font-size="7.4" fill="#fff" transform="translate(876,132.6) scale(0.86,1)">1.1538</text>
<rect x="872" y="437.2" width="2.5" height="1.2" fill="#222"/>
<text x="0" y="0" font-size="7.4" fill="#111" class="k" transform="translate(875,395.4) scale(0.86,1)">0.01174</text>
<text x="0" y="0" font-size="7.4" fill="#111" class="k" transform="translate(876,440.6) scale(0.86,1)">0.00</text>
<text x="0" y="0" font-size="7.4" fill="#111" class="k" transform="translate(874,468.6) scale(0.86,1)">-0.00759</text>
<text x="0" y="0" font-size="7.4" fill="#111" class="k" transform="translate(-25.3,479.6) scale(0.86,1)">6 Feb 20:00</text>
<rect x="18.2" y="470" width="1" height="2.6" fill="#333"/>
<text x="0" y="0" font-size="7.4" fill="#111" class="k" transform="translate(19,479.6) scale(0.86,1)">20 Feb 12:00</text>
<rect x="62.5" y="470" width="1" height="2.6" fill="#333"/>
<text x="0" y="0" font-size="7.4" fill="#111" class="k" transform="translate(63.3,479.6) scale(0.86,1)">7 Mar 04:00</text>
<rect x="106.8" y="470" width="1" height="2.6" fill="#333"/>
<text x="0" y="0" font-size="7.4" fill="#111" class="k" transform="translate(107.6,479.6) scale(0.86,1)">21 Mar 20:00</text>
<rect x="151.2" y="470" width="1" height="2.6" fill="#333"/>
<text x="0" y="0" font-size="7.4" fill="#111" class="k" transform="translate(152,479.6) scale(0.86,1)">7 Apr 12:00</text>
<rect x="195.5" y="470" width="1" height="2.6" fill="#333"/>
<text x="0" y="0" font-size="7.4" fill="#111" class="k" transform="translate(196.3,479.6) scale(0.86,1)">22 Apr 04:00</text>
<rect x="239.8" y="470" width="1" height="2.6" fill="#333"/>
<text x="0" y="0" font-size="7.4" fill="#111" class="k" transform="translate(240.6,479.6) scale(0.86,1)">6 May 20:00</text>
<rect x="284.1" y="470" width="1" height="2.6" fill="#333"/>
<text x="0" y="0" font-size="7.4" fill="#111" class="k" transform="translate(284.9,479.6) scale(0.86,1)">21 May 12:00</text>
<rect x="328.4" y="470" width="1" height="2.6" fill="#333"/>
<text x="0" y="0" font-size="7.4" fill="#111" class="k" transform="translate(329.2,479.6) scale(0.86,1)">5 Jun 04:00</text>
<rect x="372.8" y="470" width="1" height="2.6" fill="#333"/>
<text x="0" y="0" font-size="7.4" fill="#111" class="k" transform="translate(373.6,479.6) scale(0.86,1)">19 Jun 20:00</text>
<rect x="417.1" y="470" width="1" height="2.6" fill="#333"/>
<text x="0" y="0" font-size="7.4" fill="#111" class="k" transform="translate(417.9,479.6) scale(0.86,1)">4 Jul 12:00</text>
<rect x="461.4" y="470" width="1" height="2.6" fill="#333"/>
<text x="0" y="0" font-size="7.4" fill="#111" class="k" transform="translate(462.2,479.6) scale(0.86,1)">21 Jul 04:00</text>
<rect x="505.7" y="470" width="1" height="2.6" fill="#333"/>
<text x="0" y="0" font-size="7.4" fill="#111" class="k" transform="translate(506.5,479.6) scale(0.86,1)">4 Aug 20:00</text>
<rect x="550" y="470" width="1" height="2.6" fill="#333"/>
<text x="0" y="0" font-size="7.4" fill="#111" class="k" transform="translate(550.8,479.6) scale(0.86,1)">19 Aug 12:00</text>
<rect x="594.4" y="470" width="1" height="2.6" fill="#333"/>
<text x="0" y="0" font-size="7.4" fill="#111" class="k" transform="translate(595.2,479.6) scale(0.86,1)">3 Sep 04:00</text>
<rect x="638.7" y="470" width="1" height="2.6" fill="#333"/>
<text x="0" y="0" font-size="7.4" fill="#111" class="k" transform="translate(639.5,479.6) scale(0.86,1)">17 Sep 20:00</text>
<rect x="683" y="470" width="1" height="2.6" fill="#333"/>
<text x="0" y="0" font-size="7.4" fill="#111" class="k" transform="translate(683.8,479.6) scale(0.86,1)">2 Oct 12:00</text>
<rect x="727.3" y="470" width="1" height="2.6" fill="#333"/>
<text x="0" y="0" font-size="7.4" fill="#111" class="k" transform="translate(728.1,479.6) scale(0.86,1)">17 Oct 04:00</text>
<rect x="771.6" y="470" width="1" height="2.6" fill="#333"/>
<text x="0" y="0" font-size="7.4" fill="#111" class="k" transform="translate(772.4,479.6) scale(0.86,1)">31 Oct 20:00</text>
</svg></body></html>
